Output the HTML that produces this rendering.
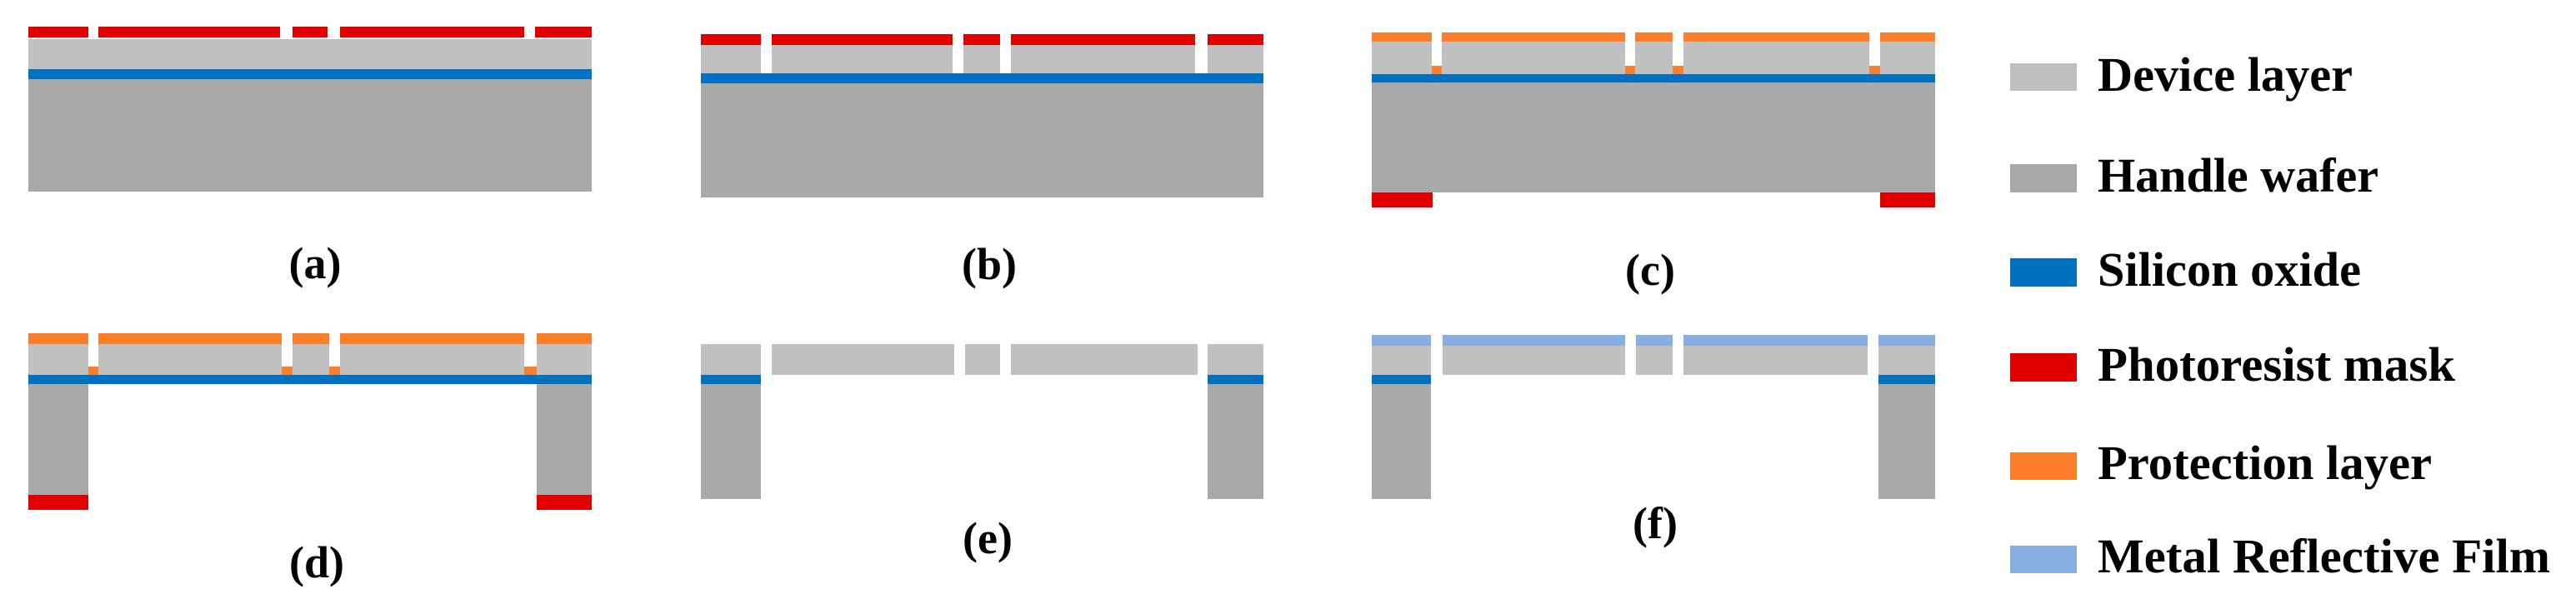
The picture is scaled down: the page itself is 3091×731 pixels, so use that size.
<!DOCTYPE html>
<html><head><meta charset="utf-8"><style>html,body{margin:0;padding:0;background:#fff}svg{display:block}
svg text{font-family:"Liberation Serif","Times New Roman",serif;font-weight:bold;fill:#000}</style></head>
<body>
<svg width="3091" height="731" viewBox="0 0 3091 731" xmlns="http://www.w3.org/2000/svg">
<g shape-rendering="crispEdges">
<rect x="34" y="95" width="676" height="135" fill="#a9a9a9"/>
<rect x="34" y="83" width="676" height="12" fill="#0070c0"/>
<rect x="34" y="47" width="676" height="36" fill="#c0c0c0"/>
<g fill="#e00000">
<rect x="34" y="32" width="72" height="13"/><rect x="118" y="32" width="218" height="13"/>
<rect x="351" y="32" width="42" height="13"/><rect x="408" y="32" width="221" height="13"/>
<rect x="642" y="32" width="68" height="13"/></g>

<rect x="841" y="100" width="675" height="137" fill="#a9a9a9"/>
<rect x="841" y="88" width="675" height="12" fill="#0070c0"/>
<g fill="#c0c0c0">
<rect x="841" y="54" width="72" height="34"/><rect x="926" y="54" width="217" height="34"/>
<rect x="1156" y="54" width="44" height="34"/><rect x="1213" y="54" width="221" height="34"/>
<rect x="1449" y="54" width="67" height="34"/></g>
<g fill="#e00000">
<rect x="841" y="41" width="72" height="13"/><rect x="926" y="41" width="217" height="13"/>
<rect x="1156" y="41" width="44" height="13"/><rect x="1213" y="41" width="221" height="13"/>
<rect x="1449" y="41" width="67" height="13"/></g>

<rect x="1646" y="99" width="676" height="132" fill="#a9a9a9"/>
<rect x="1646" y="89" width="676" height="10" fill="#0070c0"/>
<g fill="#c0c0c0">
<rect x="1646" y="50" width="72" height="39"/><rect x="1730" y="50" width="220" height="39"/>
<rect x="1962" y="50" width="45" height="39"/><rect x="2020" y="50" width="223" height="39"/>
<rect x="2256" y="50" width="66" height="39"/></g>
<g fill="#fd7f2c">
<rect x="1646" y="39" width="72" height="11"/><rect x="1730" y="39" width="220" height="11"/>
<rect x="1962" y="39" width="45" height="11"/><rect x="2020" y="39" width="223" height="11"/>
<rect x="2256" y="39" width="66" height="11"/>
<rect x="1718" y="79" width="12" height="10"/><rect x="1950" y="79" width="12" height="10"/>
<rect x="2007" y="79" width="13" height="10"/><rect x="2243" y="79" width="13" height="10"/></g>
<rect x="1646" y="231" width="73" height="18" fill="#e00000"/>
<rect x="2256" y="231" width="66" height="18" fill="#e00000"/>

<rect x="34" y="461" width="72" height="133" fill="#a9a9a9"/>
<rect x="644" y="461" width="66" height="133" fill="#a9a9a9"/>
<rect x="34" y="594" width="72" height="18" fill="#e00000"/>
<rect x="644" y="594" width="66" height="18" fill="#e00000"/>
<rect x="34" y="450" width="676" height="11" fill="#0070c0"/>
<g fill="#c0c0c0">
<rect x="34" y="413" width="72" height="37"/><rect x="118" y="413" width="220" height="37"/>
<rect x="351" y="413" width="44" height="37"/><rect x="408" y="413" width="221" height="37"/>
<rect x="644" y="413" width="66" height="37"/></g>
<g fill="#fd7f2c">
<rect x="34" y="400" width="72" height="13"/><rect x="118" y="400" width="220" height="13"/>
<rect x="351" y="400" width="44" height="13"/><rect x="408" y="400" width="221" height="13"/>
<rect x="644" y="400" width="66" height="13"/>
<rect x="106" y="440" width="12" height="10"/><rect x="338" y="440" width="13" height="10"/>
<rect x="395" y="440" width="13" height="10"/><rect x="629" y="440" width="15" height="10"/></g>

<rect x="841" y="461" width="72" height="138" fill="#a9a9a9"/>
<rect x="1449" y="461" width="67" height="138" fill="#a9a9a9"/>
<rect x="841" y="450" width="72" height="11" fill="#0070c0"/>
<rect x="1449" y="450" width="67" height="11" fill="#0070c0"/>
<g fill="#c0c0c0">
<rect x="841" y="413" width="72" height="37"/><rect x="926" y="413" width="219" height="37"/>
<rect x="1158" y="413" width="42" height="37"/><rect x="1213" y="413" width="224" height="37"/>
<rect x="1449" y="413" width="67" height="37"/></g>

<rect x="1646" y="461" width="71" height="138" fill="#a9a9a9"/>
<rect x="2254" y="461" width="68" height="138" fill="#a9a9a9"/>
<rect x="1646" y="450" width="71" height="11" fill="#0070c0"/>
<rect x="2254" y="450" width="68" height="11" fill="#0070c0"/>
<g fill="#c0c0c0">
<rect x="1646" y="415" width="71" height="35"/><rect x="1731" y="415" width="219" height="35"/>
<rect x="1963" y="415" width="44" height="35"/><rect x="2020" y="415" width="221" height="35"/>
<rect x="2254" y="415" width="68" height="35"/></g>
<g fill="#86aee0">
<rect x="1646" y="402" width="71" height="13"/><rect x="1731" y="402" width="219" height="13"/>
<rect x="1963" y="402" width="44" height="13"/><rect x="2020" y="402" width="221" height="13"/>
<rect x="2254" y="402" width="68" height="13"/></g>

<rect x="2412" y="76" width="80" height="33" fill="#c0c0c0"/>
<rect x="2412" y="197" width="80" height="34" fill="#a9a9a9"/>
<rect x="2412" y="310" width="80" height="34" fill="#0070c0"/>
<rect x="2412" y="424" width="80" height="34" fill="#e00000"/>
<rect x="2412" y="543" width="80" height="33" fill="#fd7f2c"/>
<rect x="2412" y="655" width="80" height="33" fill="#86aee0"/>
</g>
<g font-size="54" text-anchor="middle">
<text x="378" y="334">(a)</text>
<text x="1187" y="335">(b)</text>
<text x="1980" y="342">(c)</text>
<text x="380" y="693">(d)</text>
<text x="1185" y="664">(e)</text>
<text x="1986" y="646">(f)</text>
</g>
<g font-size="58">
<text x="2517" y="109" textLength="306" lengthAdjust="spacingAndGlyphs">Device layer</text>
<text x="2517" y="230" textLength="337" lengthAdjust="spacingAndGlyphs">Handle wafer</text>
<text x="2517" y="343" textLength="316" lengthAdjust="spacingAndGlyphs">Silicon oxide</text>
<text x="2517" y="457" textLength="429" lengthAdjust="spacingAndGlyphs">Photoresist mask</text>
<text x="2517" y="575" textLength="401" lengthAdjust="spacingAndGlyphs">Protection layer</text>
<text x="2517" y="687" textLength="543" lengthAdjust="spacingAndGlyphs">Metal Reflective Film</text>
</g>
</svg>
</body></html>
